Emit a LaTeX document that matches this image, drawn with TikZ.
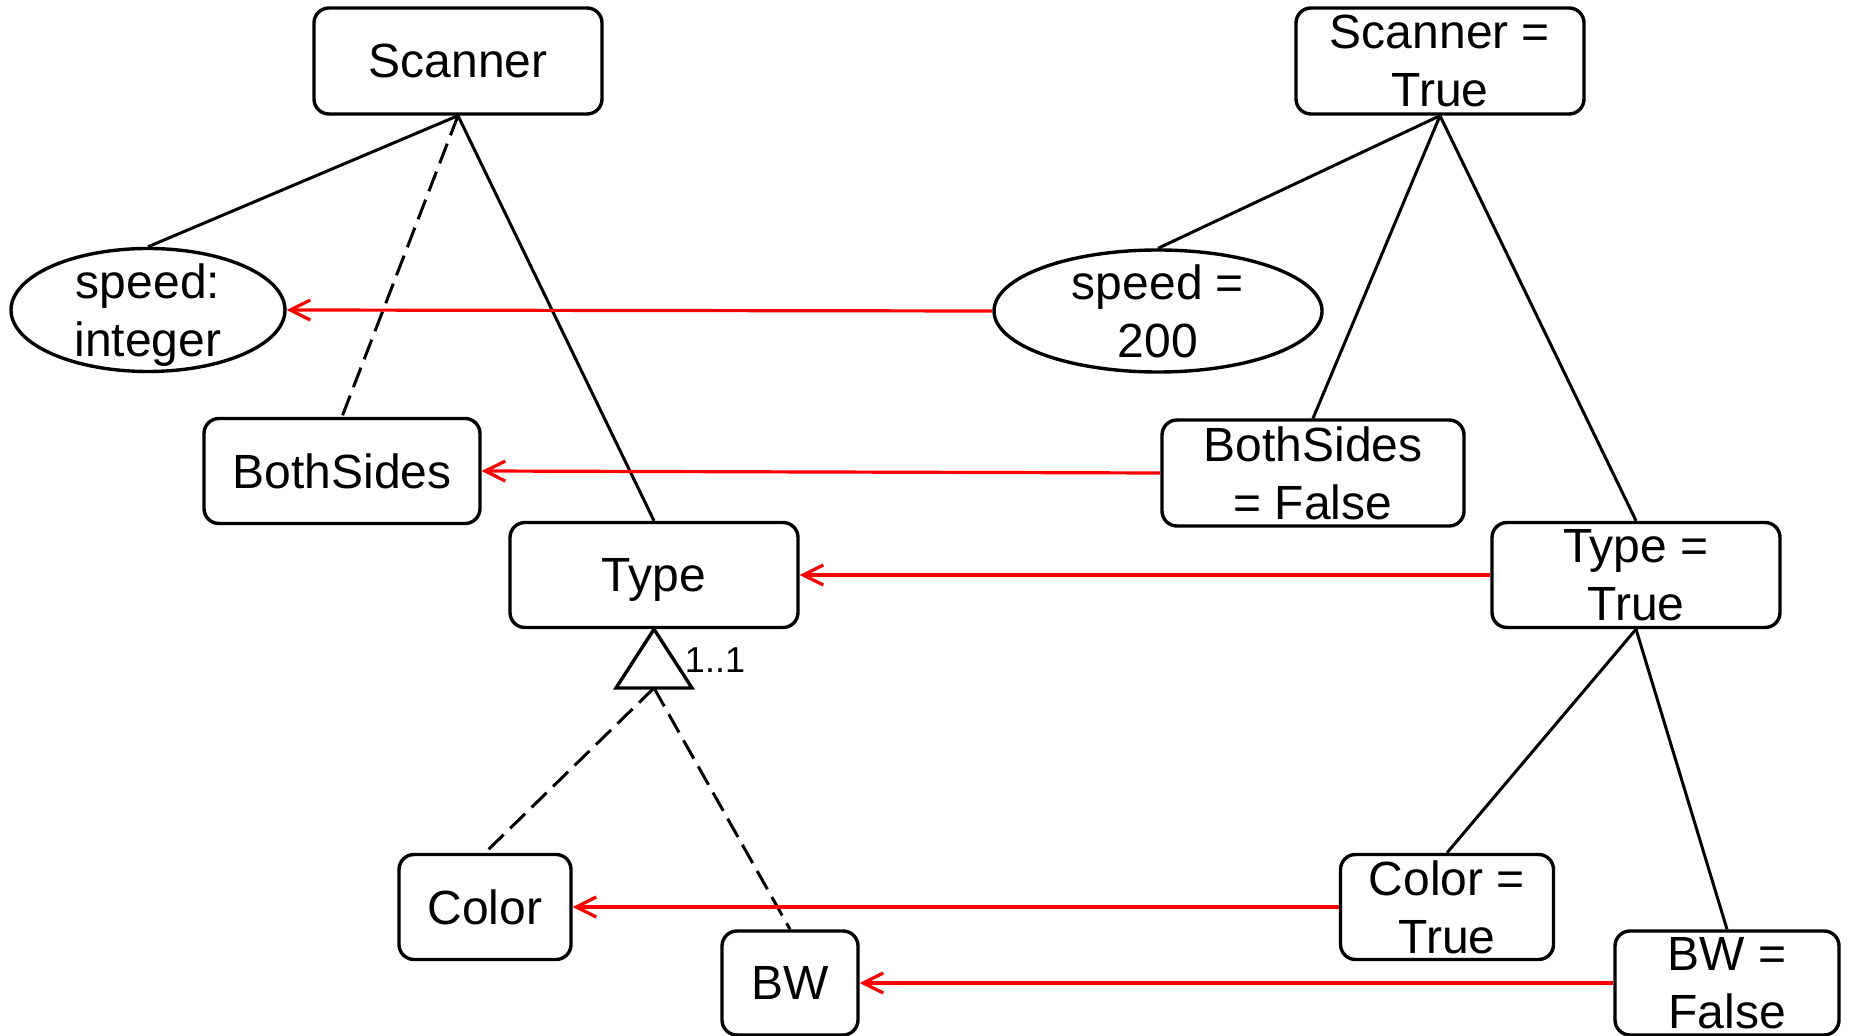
\documentclass[tikz,border=0pt]{standalone}
\usepackage{fontspec}
\setmainfont{Liberation Sans}
\usetikzlibrary{shapes.geometric,arrows.meta}

\begin{document}
\begin{tikzpicture}[x=0.5pt,y=-0.5pt,
  every node/.style={font=\fontsize{24pt}{29pt}\selectfont},
  box/.style={draw, line width=1.7pt, rounded corners=7.5pt, inner sep=0pt, align=center, text depth=0pt},
  oval/.style={draw, ellipse, line width=1.7pt, inner sep=0pt},
  txt/.style={inner sep=0pt, align=center, text depth=0pt},
  link/.style={line width=1.5pt},
  opt/.style={line width=1.5pt, dash pattern=on 10.5pt off 4.5pt},
  trace/.style={red, line width=1.6pt, -{Straight Barb[length=10pt,width=10pt,line width=1.6pt]}},
  mult/.style={inner sep=0pt, font=\fontsize{18pt}{20pt}\selectfont}]

\useasboundingbox (0,0) rectangle (1850,1036);

% feature model (left)
\node[box, minimum width=144pt, minimum height=53pt] (scan) at (458,61) {Scanner};
\node[oval, minimum width=137pt, minimum height=61.5pt] (spint) at (148,310) {};
\node[txt] (spintlbl) at (spint) {speed:\\integer};
\node[box, minimum width=138pt, minimum height=52.5pt] (both) at (342,471) {BothSides};
\node[box, minimum width=144pt, minimum height=52.5pt] (type) at (654,575) {Type};
\node[box, minimum width=86pt, minimum height=52.5pt] (color) at (485,907) {Color};
\node[box, minimum width=68pt, minimum height=52pt] (bw) at (790,983) {BW};

% configuration (right)
\node[box, minimum width=144pt, minimum height=53pt] (scanT) at (1440,61) {Scanner =\\True};
\node[oval, minimum width=164pt, minimum height=61pt] (sp200) at (1158,311) {};
\node[txt] (sp200lbl) at (sp200) {speed =\\200};
\node[box, minimum width=151pt, minimum height=53pt] (bothF) at (1313,473) {BothSides\\= False};
\node[box, minimum width=144pt, minimum height=52.5pt] (typeT) at (1636,575) {Type =\\True};
\node[box, minimum width=106.5pt, minimum height=52.5pt] (colorT) at (1447,907) {Color =\\True};
\node[box, minimum width=112pt, minimum height=52pt] (bwF) at (1727,983) {BW =\\False};

% tree edges
\draw[link] (scan.south) -- (spint.north);
\draw[opt] (scan.south) -- (both.north);
\draw[link] (scan.south) -- (type.north);

\draw[link] (scanT.south) -- (sp200.north);
\draw[link] (scanT.south) -- (bothF.north);
\draw[link] (scanT.south) -- (typeT.north);
\draw[link] (typeT.south) -- (colorT.north);
\draw[link] (typeT.south) -- (bwF.north);

% alternative group
\coordinate (tri) at (654,688);
\draw[line width=1.7pt, line join=miter] (type.south) -- ([xshift=19pt]tri) -- ([xshift=-19pt]tri) -- cycle;
\node[mult] (card) at (715,660) {1..1};
\draw[opt] (tri) -- (color.north);
\draw[opt] (tri) -- (bw.north);

% trace links
\draw[trace] (sp200.west) -- (spint.east);
\draw[trace] (bothF.west) -- (both.east);
\draw[trace] (typeT.west) -- (type.east);
\draw[trace] (colorT.west) -- (color.east);
\draw[trace] (bwF.west) -- (bw.east);
\end{tikzpicture}
\end{document}
